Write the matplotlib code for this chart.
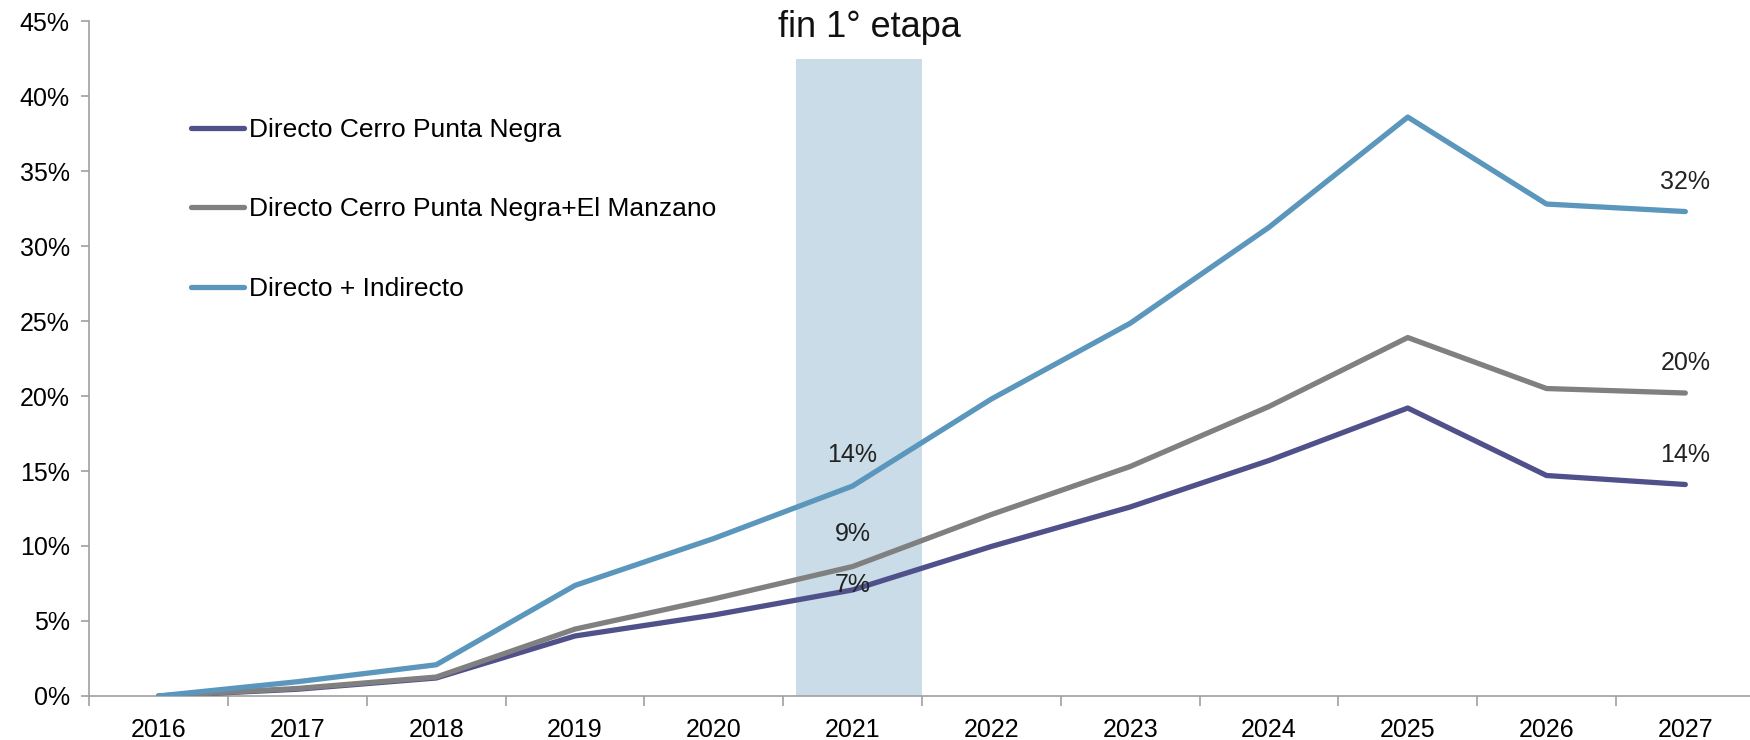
import matplotlib
matplotlib.use("Agg")
import matplotlib.pyplot as plt
from matplotlib.ticker import FixedLocator, PercentFormatter

# data (percent)
years = ["2016", "2017", "2018", "2019", "2020", "2021",
         "2022", "2023", "2024", "2025", "2026", "2027"]
directo_cpn = [0, 0.45, 1.2, 4.0, 5.4, 7.07, 9.97, 12.6, 15.7, 19.2, 14.7, 14.1]
directo_cpn_em = [0, 0.5, 1.26, 4.46, 6.47, 8.63, 12.1, 15.3, 19.3, 23.9, 20.5, 20.2]
directo_indirecto = [0, 0.95, 2.08, 7.37, 10.5, 14.0, 19.8, 24.85, 31.25, 38.6, 32.8, 32.3]
series_names = ["Directo Cerro Punta Negra",
                "Directo Cerro Punta Negra+El Manzano",
                "Directo + Indirecto"]
colors = ["#50508A", "#808080", "#5B96BC"]

plt.rcParams['font.family'] = ['Liberation Sans Narrow', 'Liberation Sans', 'DejaVu Sans']

fig = plt.figure(figsize=(17.5, 7.4), dpi=100)
ax = fig.add_axes([0.051, 0.0595, 0.9517, 0.912])

x = list(range(len(years)))

# shaded band "fin 1° etapa"
ax.fill_between([4.59, 5.5], 0, 42.5, color="#C9DCE7", lw=0, zorder=0)
ax.text(5.12, 44.6, "fin 1° etapa", ha="center", va="center", fontsize=26,
        family=['Liberation Sans', 'DejaVu Sans'], color="#111111")

for vals, name, c in zip([directo_cpn, directo_cpn_em, directo_indirecto], series_names, colors):
    ax.plot(x, vals, color=c, lw=3.8, label=name, solid_capstyle="round", zorder=3)

# value labels
lab_kw = dict(ha="center", va="center", fontsize=18, color="#222222",
              family=['Liberation Sans', 'DejaVu Sans'], zorder=4)
ax.text(5, directo_indirecto[5] + 2.1, "14%", **lab_kw)
ax.text(5, directo_cpn_em[5] + 2.2, "9%", **lab_kw)
ax.text(5, directo_cpn[5] + 0.3, "7%", **lab_kw)
ax.text(11, directo_indirecto[11] + 2.0, "32%", **lab_kw)
ax.text(11, directo_cpn_em[11] + 2.0, "20%", **lab_kw)
ax.text(11, directo_cpn[11] + 2.0, "14%", **lab_kw)

ax.set_xlim(-0.5, 11.5)
ax.set_ylim(0, 45)
ax.set_yticks(range(0, 46, 5))
ax.yaxis.set_major_formatter(PercentFormatter(decimals=0))
ax.set_xticks(x)
ax.set_xticklabels(years)
ax.xaxis.set_minor_locator(FixedLocator([i - 0.5 for i in range(len(years) + 1)]))
ax.tick_params(axis="x", which="major", length=0, pad=16, labelsize=18)
ax.tick_params(axis="x", which="minor", length=7, color="#A0A0A0", width=1.2)
ax.tick_params(axis="y", length=6, color="#A0A0A0", width=1.2, labelsize=18, pad=8)

for s in ["top", "right"]:
    ax.spines[s].set_visible(False)
for s in ["left", "bottom"]:
    ax.spines[s].set_color("#A0A0A0")
    ax.spines[s].set_linewidth(1.2)

ax.legend(loc="upper left", bbox_to_anchor=(0.055, 0.872), frameon=False,
          fontsize=19, handlelength=2.0, handletextpad=0.17, labelspacing=2.1,
          borderaxespad=0)

fig.savefig("out.png", dpi=100)
